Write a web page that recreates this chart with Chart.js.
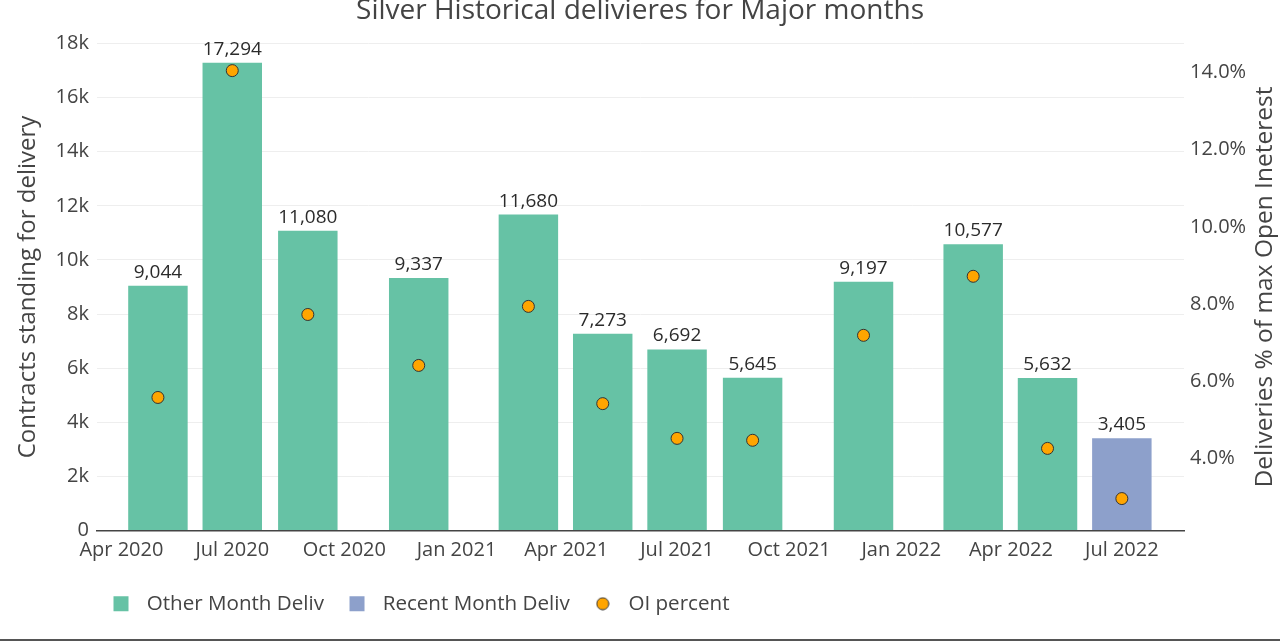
<!DOCTYPE html>
<html>
<head>
<meta charset="utf-8">
<script src="https://cdn.jsdelivr.net/npm/chart.js@4/dist/chart.umd.min.js"></script>
<style>
  html, body { margin: 0; padding: 0; background: #fff; }
  #wrap { position: relative; width: 1280px; height: 641px; }
  #bottomLine { position: absolute; left: 0; right: 0; bottom: 0; height: 2px; background: #555; }
</style>
</head>
<body>
<div id="wrap">
  <canvas id="chart" width="1280" height="641"></canvas>
  <div id="bottomLine"></div>
</div>
<script>
// delivery months (bar positions)
const otherMonths = ['2020-05-01', '2020-07-01', '2020-09-01', '2020-12-01', '2021-03-01', '2021-05-01',
                     '2021-07-01', '2021-09-01', '2021-12-01', '2022-03-01', '2022-05-01'];
const recentMonths = ['2022-07-01'];
const otherDeliv = [9044, 17294, 11080, 9337, 11680, 7273, 6692, 5645, 9197, 10577, 5632];
const recentDeliv = [3405];
// OI percent for every month, in the same order as other + recent
const oiMonths = otherMonths.concat(recentMonths);
const oiPercent = [5.58, 14.05, 7.73, 6.41, 7.94, 5.42, 4.52, 4.47, 7.19, 8.72, 4.26, 2.96];

// axis ticks
const xTickDates = ['2020-04-01', '2020-07-01', '2020-10-01', '2021-01-01', '2021-04-01', '2021-07-01',
                    '2021-10-01', '2022-01-01', '2022-04-01', '2022-07-01'];
const xTickLabels = ['Apr 2020', 'Jul 2020', 'Oct 2020', 'Jan 2021', 'Apr 2021', 'Jul 2021',
                     'Oct 2021', 'Jan 2022', 'Apr 2022', 'Jul 2022'];
const pctTicks = [4, 6, 8, 10, 12, 14];

const day = (s) => Date.parse(s) / 86400000;
const xTickDays = xTickDates.map(day);

const textColor = '#444';
Chart.defaults.font.family = "'Open Sans', sans-serif";
Chart.defaults.color = textColor;

// small circle used for the OI legend marker
const dot = document.createElement('canvas');
dot.width = 14; dot.height = 14;
(() => {
    const c = dot.getContext('2d');
    c.beginPath();
    c.arc(7, 7, 6, 0, Math.PI * 2);
    c.fillStyle = '#ffa500';
    c.fill();
    c.lineWidth = 1;
    c.strokeStyle = '#333';
    c.stroke();
})();

// value labels above the bars + right axis title (bottom-to-top)
const extras = {
    id: 'extras',
    afterDatasetsDraw(chart) {
        const ctx = chart.ctx;
        ctx.save();
        ctx.font = "19px 'Open Sans', sans-serif";
        ctx.fillStyle = '#2b2b2b';
        ctx.textAlign = 'center';
        ctx.textBaseline = 'alphabetic';
        chart.data.datasets.forEach((ds, i) => {
            if (ds.type === 'scatter') return;
            chart.getDatasetMeta(i).data.forEach((bar, j) => {
                ctx.fillText(ds.data[j].y.toLocaleString('en-US'), bar.x, bar.y - 8);
            });
        });
        ctx.restore();
    },
    afterDraw(chart) {
        const ctx = chart.ctx;
        const area = chart.chartArea;
        ctx.save();
        ctx.translate(1265, (area.top + area.bottom) / 2);
        ctx.rotate(-Math.PI / 2);
        ctx.font = "24.5px 'Open Sans', sans-serif";
        ctx.fillStyle = textColor;
        ctx.textAlign = 'center';
        ctx.textBaseline = 'middle';
        ctx.fillText('Deliveries % of max Open Ineterest', 0, 0);
        ctx.restore();
    },
    afterLayout(chart) {
        // legend starts under the plot, not at the canvas edge
        chart.legend.left += 88;
    }
};

new Chart(document.getElementById('chart'), {
    type: 'bar',
    data: {
        datasets: [
            {
                label: 'Other Month Deliv',
                data: otherMonths.map((m, i) => ({ x: day(m), y: otherDeliv[i] })),
                backgroundColor: '#66c2a5',
                grouped: false,
                categoryPercentage: 1,
                barPercentage: 0.8,
                yAxisID: 'y',
                order: 2
            },
            {
                label: 'Recent Month Deliv',
                data: recentMonths.map((m, i) => ({ x: day(m), y: recentDeliv[i] })),
                backgroundColor: '#8da0cb',
                grouped: false,
                categoryPercentage: 1,
                barPercentage: 0.8,
                yAxisID: 'y',
                order: 1
            },
            {
                type: 'scatter',
                label: 'OI percent',
                data: oiMonths.map((m, i) => ({ x: day(m), y: oiPercent[i] })),
                backgroundColor: '#ffa500',
                borderColor: '#333',
                borderWidth: 1,
                pointRadius: 6,
                yAxisID: 'y2',
                order: 0
            }
        ]
    },
    options: {
        responsive: false,
        animation: false,
        devicePixelRatio: 1,
        layout: { padding: { top: 0, bottom: 17, left: 0, right: 0 } },
        scales: {
            x: {
                type: 'linear',
                offset: false,
                min: day('2020-03-12'),
                max: day('2022-08-21'),
                grid: { display: false, drawTicks: false },
                border: { display: true, color: '#444', width: 1.5 },
                afterBuildTicks: (scale) => { scale.ticks = xTickDays.map(v => ({ value: v })); },
                afterFit: (scale) => { scale.height = 40; },
                ticks: {
                    padding: 8,
                    autoSkip: false,
                    maxRotation: 0,
                    font: { size: 20 },
                    callback: (v) => xTickLabels[xTickDays.indexOf(v)]
                }
            },
            y: {
                position: 'left',
                min: 0,
                max: 18000,
                grid: { color: '#eeeeee', drawTicks: false },
                border: { display: false },
                afterFit: (scale) => { scale.width = 97; },
                ticks: {
                    stepSize: 2000,
                    padding: 8,
                    font: { size: 20 },
                    callback: (v) => v === 0 ? '0' : (v / 1000) + 'k'
                },
                title: {
                    display: true,
                    text: 'Contracts standing for delivery',
                    font: { size: 24 },
                    padding: { top: 14, bottom: 0 }
                }
            },
            y2: {
                position: 'right',
                min: 2.135,
                max: 14.75,
                grid: { display: false, drawTicks: false },
                border: { display: false },
                afterBuildTicks: (scale) => { scale.ticks = pctTicks.map(v => ({ value: v })); },
                afterFit: (scale) => { scale.width = 96; },
                ticks: {
                    padding: 6,
                    font: { size: 20 },
                    callback: (v) => v.toFixed(1) + '%'
                }
            }
        },
        plugins: {
            title: {
                display: true,
                text: 'Silver Historical delivieres for Major months',
                color: textColor,
                font: { size: 28, weight: 'normal' },
                padding: { top: -6, bottom: 16 }
            },
            legend: {
                position: 'bottom',
                align: 'start',
                labels: {
                    usePointStyle: true,
                    boxWidth: 20,
                    boxHeight: 15,
                    padding: 23,
                    color: textColor,
                    font: { size: 20.6 },
                    sort: (a, b) => a.datasetIndex - b.datasetIndex,
                    generateLabels: (chart) => Chart.defaults.plugins.legend.labels.generateLabels(chart).map(l => ({
                        ...l,
                        text: ' ' + l.text,
                        pointStyle: chart.data.datasets[l.datasetIndex].type === 'scatter' ? dot : 'rect',
                        lineWidth: 0
                    }))
                }
            },
            tooltip: { enabled: false }
        }
    },
    plugins: [extras]
});
</script>
</body>
</html>
